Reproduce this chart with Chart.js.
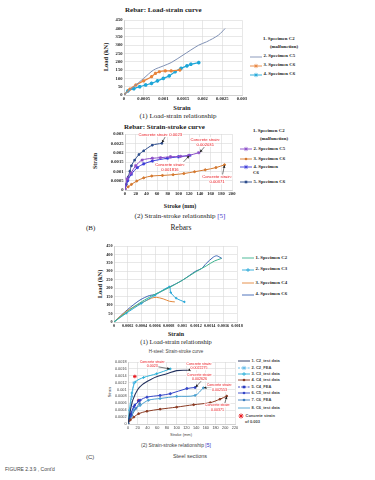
<!DOCTYPE html>
<html>
<head>
<meta charset="utf-8">
<script src="https://cdn.jsdelivr.net/npm/chart.js@4.4.0/dist/chart.umd.min.js"></script>
<style>
  body { margin: 0; width: 375px; height: 480px; background: #fff; position: relative; overflow: hidden; font-family: "Liberation Serif", serif; color: #222; }
  .abs { position: absolute; white-space: nowrap; line-height: 1; }
  .mid { transform: translate(-50%, -50%); }
  .vmid { transform: translateY(-50%); }
  .rot { transform: translate(-50%, -50%) rotate(-90deg); }
  .b { font-weight: bold; }
  .sans { font-family: "Liberation Sans", sans-serif; }
  .wrap { position: absolute; }
  .leg div { display: flex; align-items: center; height: 9px; font-weight: bold; }
  .leg svg { margin-right: 1.5px; flex: none; }
</style>
</head>
<body>

<!-- chart 1 -->
<div class="abs b" style="left:125px;top:7px;font-size:7px" id="t1"></div>
<div class="abs b rot" style="left:106px;top:57px;font-size:6.5px">Load (kN)</div>
<div class="abs b mid" style="left:182px;top:108px;font-size:6.5px">Strain</div>
<div class="abs leg" id="leg1" style="left:250px;top:36px;font-size:4.8px"></div>
<div class="abs mid" style="left:178px;top:116px;font-size:7px">(1) Load-strain relationship</div>
<div class="wrap" id="w1"><canvas id="c1"></canvas></div>

<!-- chart 2 -->
<div class="abs b vmid" style="left:124px;top:127px;font-size:7px" id="t2"></div>
<div class="abs b rot" style="left:95px;top:161px;font-size:6px">Strain</div>
<div class="abs b mid" style="left:180px;top:206px;font-size:6px">Stroke (mm)</div>
<div class="abs leg" id="leg2" style="left:240px;top:128px;font-size:4.8px"></div>
<div class="abs mid" style="left:180px;top:216px;font-size:7px">(2) Strain-stroke relationship <span style="color:#3535c8">[5]</span></div>
<div class="abs vmid" style="left:86px;top:228px;font-size:7px">(B)</div>
<div class="abs mid" style="left:181px;top:228px;font-size:7.5px">Rebars</div>
<div class="wrap" id="w2"><canvas id="c2"></canvas></div>

<!-- chart 3 -->
<div class="abs b rot" style="left:100px;top:284px;font-size:6.5px">Load (kN)</div>
<div class="abs b mid" style="left:176px;top:334px;font-size:6px">Strain</div>
<div class="abs leg" id="leg3" style="left:242px;top:253px;font-size:4.8px"></div>
<div class="abs mid" style="left:176px;top:342px;font-size:6.5px">(1) Load-strain relationship</div>
<div class="wrap" id="w3"><canvas id="c3"></canvas></div>

<!-- chart 4 -->
<div class="abs sans mid" style="left:176px;top:352px;font-size:4.5px;color:#444" id="t4"></div>
<div class="abs sans rot" style="left:110px;top:392px;font-size:4px;color:#444">Strain</div>
<div class="abs sans mid" style="left:181px;top:435px;font-size:4px;color:#444">Stroke (mm)</div>
<div class="abs leg sans" id="leg4" style="left:238px;top:358px;font-size:4px;color:#444"></div>
<div class="abs sans mid" style="left:176px;top:445px;font-size:5px;color:#444">(2) Strain-stroke relationship <span style="color:#3535c8">[5]</span></div>
<div class="abs sans vmid" style="left:86px;top:457px;font-size:6px;color:#444">(C)</div>
<div class="abs sans mid" style="left:190px;top:457px;font-size:5.5px;color:#444">Steel sections</div>
<div class="abs sans vmid" style="left:5px;top:469px;font-size:5px;color:#444">FIGURE 2.3.9 , Cont'd</div>
<div class="wrap" id="w4"><canvas id="c4"></canvas></div>

<script>
// ---------- data ----------
const t1Title = 'Rebar: Load-strain curve';
const c1Legend = ['1. Specimen C2', '(malfunction)', '2. Specimen C5', '3. Specimen C6', '4. Specimen C6'];
const c1StrainC5 = [0, 0.00025, 0.0005, 0.00075, 0.001, 0.0012, 0.0015, 0.0019, 0.0021, 0.0024, 0.00257];
const c1LoadC5 = [0, 50, 100, 150, 175, 195, 240, 300, 320, 360, 400];
const c1StrainC6 = [0, 0.00015, 0.0003, 0.0005, 0.0007, 0.0008, 0.0009, 0.00105, 0.0012, 0.00142];
const c1LoadC6 = [0, 35, 60, 85, 110, 130, 140, 145, 145, 150];
const c1StrainC6b = [0, 0.0001, 0.00025, 0.0004, 0.00055, 0.0007, 0.00085, 0.001, 0.00115, 0.0013, 0.00145, 0.0016, 0.0017, 0.0019];
const c1LoadC6b = [0, 25, 38, 50, 60, 70, 85, 100, 115, 140, 160, 175, 185, 195];

const t2Title = 'Rebar: Strain-stroke curve';
const c2Legend = ['1. Specimen C2', '(malfunction)', '2. Specimen C5', '3. Specimen C6', '4. Specimen', 'C6', '5. Specimen C6'];
const c2StrokeC5 = [0, 4, 11, 20, 32, 51, 66, 85, 104, 119, 138];
const c2StrainC5 = [0, 0.0006, 0.0009, 0.0013, 0.0016, 0.0017, 0.00173, 0.00178, 0.0018, 0.00185, 0.002];
const c2StrokeC6 = [0, 6, 12, 22, 35, 50, 70, 90, 110, 130, 150, 170, 186];
const c2StrainC6 = [0, 0.00017, 0.0003, 0.00048, 0.00065, 0.00075, 0.00078, 0.00082, 0.00088, 0.00098, 0.00108, 0.0012, 0.00135];
const c2StrokeC6b = [0, 5, 12, 23, 35, 51, 79, 100, 121];
const c2StrainC6b = [0, 0.0005, 0.00085, 0.0012, 0.0014, 0.00155, 0.0017, 0.00178, 0.00185];
const c2StrokeC6c = [0, 2.5, 6, 9, 12, 18, 26, 35, 51, 69];
const c2StrainC6c = [0, 0.0003, 0.0007, 0.001, 0.0013, 0.0016, 0.0019, 0.0021, 0.0024, 0.0025];
const c2Notes = [
  { lines: ['Concrete strain: 0.0023'], tx: 66, ty: 0.00297, fx: 76, fy: 0.00289, ax: 69, ay: 0.00253 },
  { lines: ['Concrete strain:', '0.002031'], tx: 150, ty: 0.0027, fx: 150, fy: 0.00236, ax: 140, ay: 0.00202 },
  { lines: ['Concrete strain:', '0.001816'], tx: 84, ty: 0.00137, fx: 106, fy: 0.0014, ax: 120, ay: 0.00183 },
  { lines: ['Concrete strain:', '0.00371'], tx: 172, ty: 0.0007, fx: 182, fy: 0.00078, ax: 186, ay: 0.00133 }
];

const c3Legend = ['1. Specimen C2', '2. Specimen C3', '3. Specimen C4', '4. Specimen C6'];
const c3StrainC2 = [0, 0.0002, 0.0004, 0.0006, 0.0008, 0.001, 0.0012, 0.00135, 0.00147, 0.00157];
const c3LoadC2 = [0, 63, 119, 164, 202, 247, 298, 332, 361, 376];
const c3StrainC3 = [0, 0.00018, 0.0004, 0.0006, 0.00081, 0.00083, 0.00091, 0.00103];
const c3LoadC3 = [0, 52, 110, 158, 208, 175, 141, 119];
const c3StrainC4 = [0, 0.00018, 0.00038, 0.00055, 0.00062, 0.00072, 0.00081, 0.00089];
const c3LoadC4 = [0, 63, 108, 141, 146, 137, 123, 119];
const c3StrainC6 = [0, 0.0002, 0.00038, 0.00052, 0.0006, 0.0008, 0.001, 0.0012, 0.00128, 0.00135, 0.00145, 0.0015, 0.00155, 0.00158];
const c3LoadC6 = [0, 74, 130, 157, 163, 205, 247, 302, 316, 347, 383, 392, 383, 376];

const t4Title = 'H-steel: Strain-stroke curve';
const c4Legend = ['1. C2_test data', '2. C2_FEA', '3. C3_test data', '4. C4_test data', '5. C4_FEA', '6. C5_test data', '7. C6_FEA', '8. C6_test data', 'Concrete strain', 'of 0.003'];
const c4StrokeC2 = [0, 5, 10, 20, 30, 45, 60, 80, 100, 123];
const c4StrainC2 = [0, 0.0004, 0.0007, 0.001, 0.00115, 0.00128, 0.00138, 0.00146, 0.00155, 0.00156];
const c4StrokeC2fea = [0, 4, 8, 12];
const c4StrainC2fea = [0, 0.0004, 0.0008, 0.0012];
const c4StrokeC3 = [0, 3, 8, 15, 32, 59, 87];
const c4StrainC3 = [0, 0.0004, 0.0009, 0.00122, 0.00135, 0.00146, 0.0016];
const c4StrokeC4 = [0, 5, 12, 22, 39, 66, 100, 135, 169, 189, 203];
const c4StrainC4 = [0, 0.00012, 0.0002, 0.0003, 0.00037, 0.00043, 0.00049, 0.00056, 0.00062, 0.00072, 0.00081];
const c4StrokeC4fea = [0, 6, 14, 22];
const c4StrainC4fea = [0, 0.0003, 0.00055, 0.00068];
const c4StrokeC5 = [0, 5, 12, 25, 39, 66, 87, 121, 138];
const c4StrainC5 = [0, 0.00025, 0.0005, 0.00069, 0.00078, 0.00083, 0.00088, 0.00103, 0.00106];
const c4StrokeC6fea = [0, 8, 16, 24];
const c4StrainC6fea = [0, 0.00025, 0.00045, 0.0006];
const c4StrokeC6 = [0, 5, 12, 25, 42, 66, 100, 138, 155];
const c4StrainC6 = [0, 0.0002, 0.0004, 0.00054, 0.00069, 0.00074, 0.0008, 0.00083, 0.00105];
const c4StarStroke = [14, 22];
const c4StarStrain = [0.00138, 0.00068];
const c4Notes = [
  { lines: ['Concrete strain:', '0.0023'], tx: 50, ty: 0.0018, fx: 62, fy: 0.00166, ax: 86, ay: 0.0016 },
  { lines: ['Concrete strain:', '0.0022275'], tx: 146, ty: 0.00175, fx: 134, fy: 0.00159, ax: 123, ay: 0.00156 },
  { lines: ['Concrete strain:', '0.002626'], tx: 147, ty: 0.00143, fx: 152, fy: 0.00127, ax: 139, ay: 0.00107 },
  { lines: ['Concrete strain:', '0.002553'], tx: 188, ty: 0.00112, fx: 172, fy: 0.00107, ax: 156, ay: 0.00105 },
  { lines: ['Concrete strain:', '0.00371'], tx: 184, ty: 0.00054, fx: 199, fy: 0.0006, ax: 203, ay: 0.0008 }
];

// ---------- helpers ----------
const pts = (xs, ys) => xs.map((x, i) => ({ x: x, y: ys[i] }));
const fmt = v => String(+v.toFixed(6));

function sample(color, dash, marker) {
  let s = '<svg width="12" height="6">';
  if (color) s += '<line x1="0" y1="3" x2="12" y2="3" stroke="' + color + '" stroke-width="0.9"' + (dash ? ' stroke-dasharray="2 1.2"' : '') + '/>';
  if (marker === 'circle') s += '<circle cx="6" cy="3" r="1.3" fill="' + color + '"/>';
  if (marker === 'rect') s += '<rect x="4.7" y="1.7" width="2.6" height="2.6" fill="' + color + '"/>';
  if (marker === 'cross') s += '<path d="M6 1V5M4 3H8" stroke="' + color + '" stroke-width="0.8"/>';
  if (marker === 'star') s += '<path d="M6 0.8V5.2M4 3H8M4.5 1.5L7.5 4.5M7.5 1.5L4.5 4.5" stroke="' + color + '" stroke-width="0.7"/>';
  if (marker === 'redstar') s = '<svg width="6" height="6"><path d="M3 0.5V5.5M0.5 3H5.5M1.2 1.2L4.8 4.8M4.8 1.2L1.2 4.8" stroke="#e8141b" stroke-width="0.9"/>';
  return s + '</svg>';
}

function legend(id, labels, styles, rowH) {
  document.getElementById(id).innerHTML = labels.map((t, i) => {
    const st = styles[i] || {};
    const pad = st.indent ? 'padding-left:' + st.indent + 'px;' : '';
    const h = st.h || rowH;
    return '<div style="height:' + h + 'px;' + pad + '">' + (st.color || st.marker ? sample(st.color, st.dash, st.marker) : '') + t + '</div>';
  }).join('');
}

const notesPlugin = {
  id: 'notes',
  afterDatasetsDraw(chart, args, o) {
    if (!o.items) return;
    const { ctx } = chart;
    const x = chart.scales.x, y = chart.scales.y;
    ctx.save();
    o.items.forEach(n => {
      const x0 = x.getPixelForValue(n.fx), y0 = y.getPixelForValue(n.fy);
      const x1 = x.getPixelForValue(n.ax), y1 = y.getPixelForValue(n.ay);
      ctx.strokeStyle = '#222'; ctx.fillStyle = '#222'; ctx.lineWidth = 0.6;
      ctx.beginPath(); ctx.moveTo(x0, y0); ctx.lineTo(x1, y1); ctx.stroke();
      const a = Math.atan2(y1 - y0, x1 - x0);
      ctx.beginPath(); ctx.moveTo(x1, y1);
      ctx.lineTo(x1 - 3 * Math.cos(a - 0.5), y1 - 3 * Math.sin(a - 0.5));
      ctx.lineTo(x1 - 3 * Math.cos(a + 0.5), y1 - 3 * Math.sin(a + 0.5));
      ctx.closePath(); ctx.fill();
      ctx.font = o.font; ctx.textAlign = 'center'; ctx.textBaseline = 'middle';
      const cx = x.getPixelForValue(n.tx), cy = y.getPixelForValue(n.ty);
      n.lines.forEach((t, i) => {
        const w = ctx.measureText(t).width;
        ctx.fillStyle = '#fff';
        ctx.fillRect(cx - w / 2 - 0.5, cy + i * o.lh - o.lh / 2, w + 1, o.lh);
        ctx.fillStyle = '#e8141b';
        ctx.fillText(t, cx, cy + i * o.lh);
      });
    });
    ctx.restore();
  }
};

function makeChart(n, box, yw, xh, padT, padR, datasets, xs, ys, tickFont, notes) {
  const w = document.getElementById('w' + n), c = document.getElementById('c' + n);
  const L = box.l - yw, T = box.t - padT;
  w.style.left = L + 'px'; w.style.top = T + 'px';
  c.width = box.r - L + padR; c.height = box.b - T + xh;
  const axis = (s, fit) => ({
    type: 'linear', min: s.min, max: s.max,
    ticks: { stepSize: s.step, autoSkip: false, maxRotation: 0, padding: 1.5, font: tickFont, color: tickFont.color, callback: fmt },
    grid: { color: '#d9d9d9', lineWidth: 0.6, tickLength: 0 },
    border: { color: '#bfbfbf', width: 0.6 },
    afterFit: fit
  });
  return new Chart(c, {
    type: 'line',
    data: { datasets: datasets },
    plugins: [notesPlugin],
    options: {
      responsive: false, animation: false,
      layout: { padding: { top: padT, right: padR, left: 0, bottom: 0 } },
      plugins: { legend: { display: false }, tooltip: { enabled: false }, notes: notes || {} },
      elements: { line: { tension: 0.3, borderWidth: 1 }, point: { radius: 0 } },
      scales: {
        x: axis(xs, s => { s.height = xh; }),
        y: axis(ys, s => { s.width = yw; })
      }
    }
  });
}

const line = (data, color, extra) => Object.assign({ data: data, borderColor: color, backgroundColor: color, fill: false, pointRadius: 0 }, extra || {});
const serifTicks = { family: 'Liberation Serif', size: 4.6, weight: 'bold', color: '#222' };

// ---------- chart 1 ----------
document.getElementById('t1').textContent = t1Title;
legend('leg1', c1Legend, [
  { indent: 13, h: 7 }, { indent: 20, h: 9 },
  { color: '#7f90b4' }, { color: '#e8843c', marker: 'star' }, { color: '#1ea6d8', marker: 'star' }
], 9);
makeChart(1, { l: 124, t: 19, r: 242, b: 95 }, 14, 9, 4, 9, [
  line(pts(c1StrainC5, c1LoadC5), '#7f90b4'),
  line(pts(c1StrainC6, c1LoadC6), '#e8843c', { pointStyle: 'star', pointRadius: 1.6, borderWidth: 1.2 }),
  line(pts(c1StrainC6b, c1LoadC6b), '#1ea6d8', { pointStyle: 'star', pointRadius: 1.8, borderWidth: 1.2 })
], { min: 0, max: 0.003, step: 0.0005 }, { min: 0, max: 450, step: 50 }, serifTicks);

// ---------- chart 2 ----------
document.getElementById('t2').textContent = t2Title;
legend('leg2', c2Legend, [
  { indent: 13, h: 7 }, { indent: 20, h: 9 },
  { color: '#8a4cc8', marker: 'star' }, { color: '#d4782e', marker: 'circle' },
  { color: '#3a3ad8', marker: 'star', h: 6 }, { indent: 13, h: 7 }, { color: '#2c4c8c', marker: 'rect' }
], 10);
makeChart(2, { l: 125, t: 133, r: 232, b: 190 }, 26, 9, 4, 8, [
  line(pts(c2StrokeC5, c2StrainC5), '#8a4cc8', { pointStyle: 'star', pointRadius: 1.6 }),
  line(pts(c2StrokeC6, c2StrainC6), '#d4782e', { pointStyle: 'circle', pointRadius: 1 }),
  line(pts(c2StrokeC6b, c2StrainC6b), '#3a3ad8', { pointStyle: 'star', pointRadius: 1.6 }),
  line(pts(c2StrokeC6c, c2StrainC6c), '#2c4c8c', { pointStyle: 'rect', pointRadius: 1.1 })
], { min: 0, max: 200, step: 20 }, { min: 0, max: 0.003, step: 0.0005 }, serifTicks,
{ items: c2Notes, font: '4.2px "Liberation Sans"', lh: 5 });

// ---------- chart 3 ----------
legend('leg3', c3Legend, [
  { color: '#3cb38e', h: 10 }, { color: '#2aa8d8', marker: 'cross', h: 13 }, { color: '#e3873a', h: 14 }, { color: '#3c64b4' }
], 9);
makeChart(3, { l: 114, t: 245, r: 237, b: 322 }, 13, 8, 4, 9, [
  line(pts(c3StrainC2, c3LoadC2), '#3cb38e'),
  line(pts(c3StrainC3, c3LoadC3), '#2aa8d8', { pointStyle: 'cross', pointRadius: 1.2 }),
  line(pts(c3StrainC4, c3LoadC4), '#e3873a'),
  line(pts(c3StrainC6, c3LoadC6), '#3c64b4')
], { min: 0, max: 0.0018, step: 0.0002 }, { min: 0, max: 450, step: 50 },
{ family: 'Liberation Serif', size: 4.2, weight: 'bold', color: '#222' });

// ---------- chart 4 ----------
document.getElementById('t4').textContent = t4Title;
legend('leg4', c4Legend, [
  { color: '#24325e' }, { color: '#5bb8e8', dash: true, marker: 'star' }, { color: '#2ab0d8', marker: 'cross' },
  { color: '#8a3a22', marker: 'circle' }, { color: '#2c3cc0', dash: true, marker: 'rect' }, { color: '#3446c8', marker: 'circle' },
  { color: '#3f7fc0', marker: 'circle' }, { color: '#4aa0d0', h: 11 }, { marker: 'redstar', h: 5 }, { indent: 7 }
], 6.4);
makeChart(4, { l: 128, t: 360, r: 235, b: 424 }, 20, 7, 3, 7, [
  line(pts(c4StrokeC2, c4StrainC2), '#24325e', { borderWidth: 1.1 }),
  line(pts(c4StrokeC2fea, c4StrainC2fea), '#5bb8e8', { borderDash: [2, 1], pointStyle: 'star', pointRadius: 1.2 }),
  line(pts(c4StrokeC3, c4StrainC3), '#2ab0d8', { pointStyle: 'cross', pointRadius: 1.3 }),
  line(pts(c4StrokeC4, c4StrainC4), '#8a3a22', { pointStyle: 'circle', pointRadius: 0.9 }),
  line(pts(c4StrokeC4fea, c4StrainC4fea), '#2c3cc0', { borderDash: [2, 1], pointStyle: 'rect', pointRadius: 1 }),
  line(pts(c4StrokeC5, c4StrainC5), '#3446c8', { pointStyle: 'circle', pointRadius: 1 }),
  line(pts(c4StrokeC6fea, c4StrainC6fea), '#3f7fc0', { pointStyle: 'circle', pointRadius: 0.9 }),
  line(pts(c4StrokeC6, c4StrainC6), '#4aa0d0', { pointStyle: 'circle', pointRadius: 0.9 }),
  line(pts(c4StarStroke, c4StarStrain), '#e8141b', { showLine: false, pointStyle: 'star', pointRadius: 1.8, borderWidth: 0.9 })
], { min: 0, max: 220, step: 20 }, { min: 0, max: 0.0018, step: 0.0002 },
{ family: 'Liberation Sans', size: 3.8, weight: 'normal', color: '#444' },
{ items: c4Notes, font: '3.6px "Liberation Sans"', lh: 4.3 });
</script>
</body>
</html>
